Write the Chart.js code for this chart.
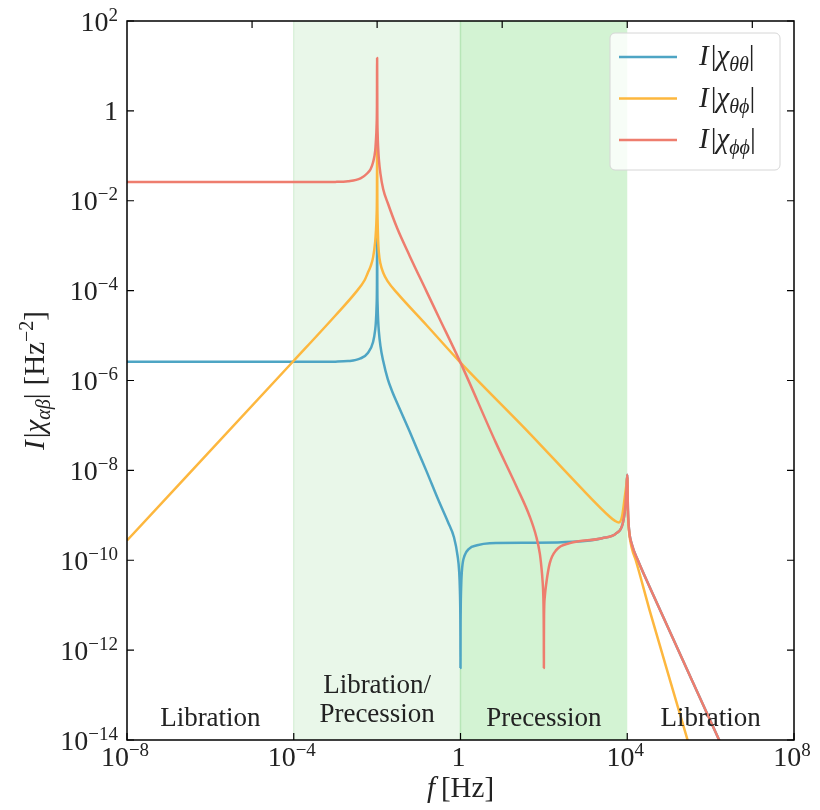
<!DOCTYPE html>
<html>
<head>
<meta charset="utf-8">
<script src="https://cdn.jsdelivr.net/npm/chart.js@4.4.1/dist/chart.umd.min.js"></script>
<style>
  html, body { margin: 0; padding: 0; background: #fff; }
  canvas { display: block; }
</style>
</head>
<body>
<canvas id="chi" width="820" height="810"></canvas>
<script>
// susceptibility magnitudes I|chi| vs frequency (Hz)
const thetaThetaF = [1e-8, 1e-4, 1e-3, 2e-3, 4e-3, 6e-3, 8e-3, 9e-3, 9.3e-3, 9.7e-3, 9.9e-3, 1e-2, 1.01e-2, 1.03e-2, 1.06e-2, 1.1e-2, 1.2e-2, 1.4e-2, 1.8e-2, 2.3e-2, 3e-2, 6e-2, 0.1, 0.15, 0.3, 0.5, 0.7, 0.85, 0.93, 0.97, 0.99, 0.997, 1, 1.003, 1.01, 1.04, 1.1, 1.25, 1.6, 2.5, 5, 50, 500, 2500, 5500, 7800, 9000, 9600, 1e4, 1.04e4, 1.1e4, 1.3e4, 1.8e4, 3.4e4, 1.6e6, 1e7];
const thetaThetaV = [2.6e-6, 2.6e-6, 2.63e-6, 2.7e-6, 3.1e-6, 4.1e-6, 7.2e-6, 1.35e-5, 1.9e-5, 4.4e-5, 1.3e-4, 1.6e-3, 1.3e-4, 4.3e-5, 2.1e-5, 1.24e-5, 5.9e-6, 2.7e-6, 1.07e-6, 5.7e-7, 3.2e-7, 7.4e-8, 2.4e-8, 1e-8, 2.1e-9, 7.1e-10, 3.2e-10, 1.26e-10, 5.6e-11, 2e-11, 6.3e-12, 2e-12, 4e-13, 2.5e-12, 7e-12, 2.8e-11, 7e-11, 1.26e-10, 1.8e-10, 2.15e-10, 2.4e-10, 2.45e-10, 2.57e-10, 3.1e-10, 4e-10, 6.6e-10, 1.6e-9, 4e-9, 8e-9, 1.26e-9, 5e-10, 2.2e-10, 1e-10, 2.6e-11, 1e-14, 2.3e-16];

const thetaPhiF = [1e-8, 1e-4, 1e-3, 3e-3, 5e-3, 6e-3, 7e-3, 8e-3, 9e-3, 9.3e-3, 9.7e-3, 9.9e-3, 1e-2, 1.01e-2, 1.03e-2, 1.06e-2, 1.1e-2, 1.2e-2, 1.4e-2, 1.8e-2, 3e-2, 0.15, 1, 46, 720, 3800, 5000, 6300, 7600, 8700, 9600, 1e4, 1.04e4, 1.1e4, 1.3e4, 1.6e4, 3.4e4, 2.8e5, 1e6];
const thetaPhiV = [2.75e-10, 2.75e-6, 2.8e-5, 8.9e-5, 1.7e-4, 2.5e-4, 3.5e-4, 5.5e-4, 1.25e-3, 1.9e-3, 4.4e-3, 1.3e-2, 0.16, 1.26e-2, 3.2e-3, 1.26e-3, 7e-4, 4e-4, 2.5e-4, 1.6e-4, 8.9e-5, 1.74e-5, 2.5e-6, 6.6e-8, 4.4e-9, 9.3e-10, 7.6e-10, 6.9e-10, 1e-9, 2.5e-9, 5e-9, 7e-9, 1.1e-9, 4.5e-10, 1.8e-10, 1e-10, 8e-12, 1e-14, 1.6e-16];

const phiPhiF = [1e-8, 1e-4, 1e-3, 2e-3, 4e-3, 6e-3, 7e-3, 8e-3, 9e-3, 9.3e-3, 9.7e-3, 9.9e-3, 1e-2, 1.01e-2, 1.03e-2, 1.06e-2, 1.1e-2, 1.2e-2, 1.4e-2, 1.8e-2, 3e-2, 6e-2, 0.15, 0.3, 1, 7, 22, 46, 66, 80, 87, 93, 97, 99, 99.7, 100, 100.3, 101, 105, 115, 138, 200, 420, 2500, 5500, 7800, 9000, 9600, 1e4, 1.04e4, 1.1e4, 1.3e4, 1.8e4, 3.4e4, 1.6e6, 1e7];
const phiPhiV = [2.6e-2, 2.6e-2, 2.63e-2, 2.72e-2, 3.15e-2, 4.2e-2, 5.1e-2, 7.2e-2, 0.13, 0.2, 0.45, 1.3, 15, 1.0, 0.3, 0.15, 8.5e-2, 4e-2, 1.8e-2, 8.9e-3, 2.5e-3, 6e-4, 1e-4, 2.6e-5, 2.5e-6, 4.2e-8, 4.4e-9, 9.3e-10, 3.3e-10, 1.4e-10, 7.2e-11, 3.5e-11, 1.6e-11, 5e-12, 1.6e-12, 4e-13, 2e-12, 6e-12, 1.5e-11, 3.2e-11, 8.5e-11, 1.7e-10, 2.4e-10, 3.1e-10, 4e-10, 6.6e-10, 1.6e-9, 4e-9, 8e-9, 1.26e-9, 5e-10, 2.2e-10, 1e-10, 2.6e-11, 1e-14, 2.3e-16];

// regimes along the frequency axis
const regionEdges = [1e-8, 1e-4, 1, 1e4, 1e8];
const regionNames = [['Libration'], ['Libration/', 'Precession'], ['Precession'], ['Libration']];
const regionFill = [null, '#e9f7e9', '#d3f3d3', null];

// tick positions as powers of ten
const yTickPowers = [-14, -12, -10, -8, -6, -4, -2, 0, 2];
const xTickPowers = [-8, -4, 0, 4, 8];
const xTopPowers = [-5, -2, 1, 4, 7];

const colors = { tt: '#4ea5c4', tp: '#fdb73e', pp: '#ee7d6e' };
const serif = '"Liberation Serif", "DejaVu Serif", serif';
const big = '28px ' + serif;
const small = '19px ' + serif;
const label = '27px ' + serif;
const legIt = 'italic 29px ' + serif;
const legFont = '29px ' + serif;
const legSub = 'italic 20px ' + serif;
const titleFont = '29px ' + serif;
const titleIt = 'italic 29px ' + serif;
const titleSub = 'italic 20px ' + serif;
const titleSup = '20px ' + serif;

const toPoints = (fs, vs) => fs.map((f, i) => ({ x: f, y: vs[i] }));

function drawRuns(ctx, runs, x, y, align) {
  let w = 0;
  runs.forEach(r => { ctx.font = r.font; w += ctx.measureText(r.t).width + (r.gap || 0); });
  let cx = align === 'right' ? x - w : align === 'center' ? x - w / 2 : x;
  ctx.textAlign = 'left';
  ctx.textBaseline = 'alphabetic';
  runs.forEach(r => {
    ctx.font = r.font;
    ctx.fillText(r.t, cx, y + (r.dy || 0));
    cx += ctx.measureText(r.t).width + (r.gap || 0);
  });
}

function powerRuns(p) {
  if (p === 0) return [{ t: '1', font: big }];
  return [{ t: '10', font: big }, { t: (p < 0 ? '\u2212' : '') + Math.abs(p), font: small, dy: -10 }];
}

function chiRuns(sub) {
  return [
    { t: 'I', font: legIt, gap: 2 },
    { t: '|', font: legFont },
    { t: '\u03c7', font: legIt },
    { t: sub, font: legSub, dy: 6 },
    { t: '|', font: legFont }
  ];
}

const decor = {
  id: 'decor',
  beforeDatasetsDraw(chart) {
    const { ctx, chartArea: a, scales: { x } } = chart;
    ctx.save();
    regionFill.forEach((c, i) => {
      if (!c) return;
      const x0 = x.getPixelForValue(regionEdges[i]);
      const x1 = x.getPixelForValue(regionEdges[i + 1]);
      ctx.fillStyle = c;
      ctx.fillRect(x0, a.top, x1 - x0, a.bottom - a.top);
    });
    // faint span edges
    ctx.lineWidth = 1.5;
    ctx.strokeStyle = '#dbf1db';
    let px = x.getPixelForValue(1e-4);
    ctx.beginPath(); ctx.moveTo(px, a.top); ctx.lineTo(px, a.bottom); ctx.stroke();
    ctx.strokeStyle = '#b7e6b7';
    px = x.getPixelForValue(1);
    ctx.beginPath(); ctx.moveTo(px, a.top); ctx.lineTo(px, a.bottom); ctx.stroke();
    ctx.restore();
  },
  afterDatasetsDraw(chart) {
    const { ctx, chartArea: a, scales: { x, y } } = chart;
    ctx.save();
    ctx.fillStyle = '#222';

    // regime labels
    regionNames.forEach((lines, i) => {
      const cx = (x.getPixelForValue(regionEdges[i]) + x.getPixelForValue(regionEdges[i + 1])) / 2;
      if (lines.length === 1) {
        drawRuns(ctx, [{ t: lines[0], font: label }], cx, 726, 'center');
      } else {
        drawRuns(ctx, [{ t: lines[0], font: label }], cx, 693, 'center');
        drawRuns(ctx, [{ t: lines[1], font: label }], cx, 722, 'center');
      }
    });

    // frame
    ctx.strokeStyle = '#000';
    ctx.lineWidth = 1.5;
    ctx.strokeRect(a.left, a.top, a.right - a.left, a.bottom - a.top);

    // inward ticks
    ctx.lineWidth = 1.2;
    const tl = 7;
    ctx.beginPath();
    yTickPowers.forEach(p => {
      const py = y.getPixelForValue(Math.pow(10, p));
      ctx.moveTo(a.left, py); ctx.lineTo(a.left + tl, py);
      ctx.moveTo(a.right, py); ctx.lineTo(a.right - tl, py);
    });
    xTickPowers.forEach(p => {
      const px = x.getPixelForValue(Math.pow(10, p));
      ctx.moveTo(px, a.bottom); ctx.lineTo(px, a.bottom - tl);
    });
    xTopPowers.forEach(p => {
      const px = x.getPixelForValue(Math.pow(10, p));
      ctx.moveTo(px, a.top); ctx.lineTo(px, a.top + tl);
    });
    ctx.stroke();

    // tick labels
    ctx.fillStyle = '#222';
    yTickPowers.forEach(p => {
      const py = y.getPixelForValue(Math.pow(10, p));
      drawRuns(ctx, powerRuns(p), a.left - 9, py + 9.5, 'right');
    });
    xTickPowers.forEach(p => {
      const px = x.getPixelForValue(Math.pow(10, p));
      drawRuns(ctx, powerRuns(p), px - 2, a.bottom + 26, 'center');
    });

    // axis titles
    drawRuns(ctx, [
      { t: 'f', font: titleIt, gap: 6 },
      { t: '[Hz]', font: titleFont }
    ], (a.left + a.right) / 2, 797, 'center');

    ctx.save();
    ctx.translate(44, (a.top + a.bottom) / 2);
    ctx.rotate(-Math.PI / 2);
    drawRuns(ctx, [
      { t: 'I', font: titleIt, gap: 2 },
      { t: '|', font: titleFont },
      { t: '\u03c7', font: titleIt },
      { t: '\u03b1\u03b2', font: titleSub, dy: 6 },
      { t: '|', font: titleFont, gap: 8 },
      { t: '[Hz', font: titleFont },
      { t: '\u22122', font: titleSup, dy: -11 },
      { t: ']', font: titleFont }
    ], 0, 0, 'center');
    ctx.restore();

    // legend
    const lx = 610, ly = 33, lw = 170, lh = 137;
    ctx.beginPath();
    ctx.roundRect(lx, ly, lw, lh, 5);
    ctx.fillStyle = 'rgba(255,255,255,0.82)';
    ctx.fill();
    ctx.strokeStyle = '#d6d6d6';
    ctx.lineWidth = 1;
    ctx.stroke();
    const entries = [['\u03b8\u03b8', colors.tt], ['\u03b8\u03d5', colors.tp], ['\u03d5\u03d5', colors.pp]];
    entries.forEach(([sub, col], i) => {
      const ey = 57 + i * 41.5;
      ctx.strokeStyle = col;
      ctx.lineWidth = 2.5;
      ctx.beginPath(); ctx.moveTo(619, ey); ctx.lineTo(677, ey); ctx.stroke();
      ctx.fillStyle = '#222';
      drawRuns(ctx, chiRuns(sub), 699, ey + 8, 'left');
    });

    ctx.restore();
  }
};

const lineStyle = {
  showLine: true, pointRadius: 0, borderWidth: 2.5, fill: false,
  cubicInterpolationMode: 'monotone', borderJoinStyle: 'round'
};

new Chart(document.getElementById('chi'), {
  type: 'scatter',
  data: {
    datasets: [
      { ...lineStyle, label: 'phiphi', order: 0, data: toPoints(phiPhiF, phiPhiV), borderColor: colors.pp },
      { ...lineStyle, label: 'thetaphi', order: 1, data: toPoints(thetaPhiF, thetaPhiV), borderColor: colors.tp },
      { ...lineStyle, label: 'thetatheta', order: 2, data: toPoints(thetaThetaF, thetaThetaV), borderColor: colors.tt }
    ]
  },
  options: {
    responsive: false,
    animation: false,
    events: [],
    layout: { padding: { left: 127, right: 26, top: 21, bottom: 70 } },
    plugins: { legend: { display: false }, tooltip: { enabled: false } },
    scales: {
      x: { type: 'logarithmic', min: 1e-8, max: 1e8, display: false },
      y: { type: 'logarithmic', min: 1e-14, max: 1e2, display: false }
    }
  },
  plugins: [decor]
});
</script>
</body>
</html>
